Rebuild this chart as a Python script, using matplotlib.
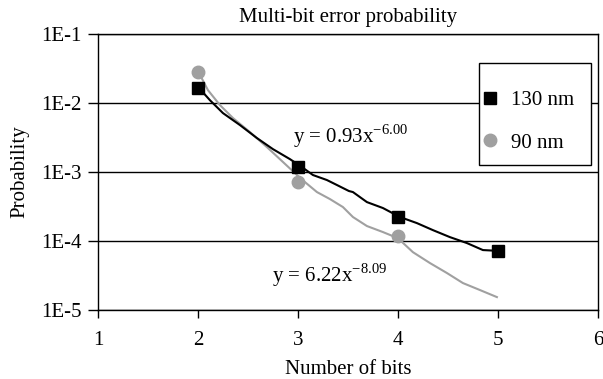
import numpy as np
import matplotlib.pyplot as plt
from matplotlib.lines import Line2D
from matplotlib.patches import Rectangle

plt.rcParams['font.family'] = ['Liberation Serif', 'DejaVu Serif']
plt.rcParams['font.size'] = 15

# measured points (markers)
bits_130 = [2, 3, 4, 5]
prob_130 = [0.0165, 0.00118, 0.00022, 0.000072]
bits_90 = [2, 3, 4]
prob_90 = [0.028, 0.00072, 0.000118]

# curves
curve_x_130 = [2.01, 2.12, 2.25, 2.42, 2.59, 2.75, 2.92, 3.04, 3.15, 3.29, 3.39,
               3.51, 3.55, 3.69, 3.85, 4.02, 4.19, 4.35, 4.52, 4.69, 4.85, 5.01]
curve_p_130 = [0.0166, 0.0110, 0.00716, 0.0048, 0.00311, 0.00215, 0.00154, 0.00118,
               0.000906, 0.000766, 0.000649, 0.000531, 0.000513, 0.000367, 0.000301,
               0.000223, 0.000182, 0.000144, 0.000114, 0.0000935, 0.000074, 0.000072]
curve_x_90 = [2.00, 2.10, 2.22, 2.35, 2.52, 2.69, 2.85, 2.99, 3.03, 3.19, 3.32,
              3.45, 3.55, 3.69, 3.85, 4.00, 4.15, 4.32, 4.49, 4.65, 4.82, 4.99]
curve_p_90 = [0.0291, 0.0154, 0.00935, 0.00607, 0.0038, 0.0023, 0.0014, 0.000906,
              0.00080, 0.000513, 0.000406, 0.000311, 0.000223, 0.000165, 0.000135,
              0.00011, 0.000069, 0.000048, 0.0000344, 0.0000246, 0.0000195, 0.0000154]

yticks = [1e-5, 1e-4, 1e-3, 1e-2, 1e-1]
ytick_labels = ['1E-5', '1E-4', '1E-3', '1E-2', '1E-1']
xticks = [1, 2, 3, 4, 5, 6]

fig = plt.figure(figsize=(6.03, 3.79), dpi=100)
ax = fig.add_axes([0.1625, 0.182, 0.829, 0.728])

gray = '#a0a0a0'
ax.plot(curve_x_90, curve_p_90, color=gray, lw=1.5, zorder=3)
ax.plot(curve_x_130, curve_p_130, color='black', lw=1.5, zorder=4)
ax.plot(bits_90, prob_90, 'o', color=gray, ms=9, zorder=5)
ax.plot(bits_130, prob_130, 's', color='black', ms=8.5, zorder=6)

ax.set_yscale('log')
ax.set_ylim(1e-5, 1e-1)
ax.set_xlim(1, 6)
ax.set_yticks(yticks)
ax.set_yticklabels(ytick_labels)
ax.minorticks_off()
ax.set_xticks(xticks)
ax.tick_params(direction='out', width=1, colors='black', labelsize=15)
ax.tick_params(axis='y', length=7, pad=5)
ax.tick_params(axis='x', length=6, pad=9)
ax.grid(axis='y', color='black', lw=1)
for s in ax.spines.values():
    s.set_linewidth(1)

ax.set_title('Multi-bit error probability', fontsize=15, pad=9)
ax.set_xlabel('Number of bits', fontsize=15, labelpad=7)
ax.set_ylabel('Probability', fontsize=15, labelpad=8)

ax.text(2.95, 2.7e-3, r'y = 0.93x$^{\mathregular{-6.00}}$', fontsize=15,
        ha='left', va='baseline')
ax.text(2.74, 2.55e-5, r'y = 6.22x$^{\mathregular{-8.09}}$', fontsize=15,
        ha='left', va='baseline')

# legend box (frame drawn separately, entries sit low in the box like the original)
ax.add_patch(Rectangle((0.762, 0.525), 0.224, 0.37, transform=ax.transAxes,
                       facecolor='white', edgecolor='black', lw=1, zorder=7))
handles = [Line2D([], [], ls='none', marker='s', color='black', ms=8.5),
           Line2D([], [], ls='none', marker='o', color=gray, ms=9)]
leg = ax.legend(handles, ['130 nm', '90 nm'], loc='upper left',
                bbox_to_anchor=(0.772, 0.795), borderaxespad=0, borderpad=0,
                frameon=False, labelspacing=1.1, handlelength=0.6,
                handletextpad=0.7, fontsize=15)
leg.set_zorder(8)

fig.savefig('out.png', dpi=100)
